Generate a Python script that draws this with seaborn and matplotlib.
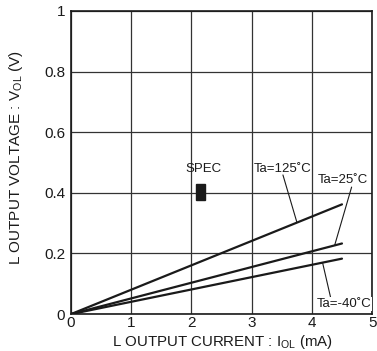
import numpy as np
import pandas as pd
import seaborn as sns
import matplotlib.pyplot as plt

# dados
corrente = [0, 4.5]
v_125 = [0, 0.362]
v_25 = [0, 0.233]
v_m40 = [0, 0.183]
rotulos = ["Ta=125˚C", "Ta=25˚C", "Ta=-40˚C"]

x_ticks = [0, 1, 2, 3, 4, 5]
y_ticks = [0, 0.2, 0.4, 0.6, 0.8, 1]
y_tick_labels = ["0", "0.2", "0.4", "0.6", "0.8", "1"]

# caixa SPEC (x, y inferior, largura, altura)
spec = (2.07, 0.376, 0.16, 0.053)

df = pd.DataFrame({
    "I": corrente * 3,
    "V": v_125 + v_25 + v_m40,
    "Ta": [rotulos[0]] * 2 + [rotulos[1]] * 2 + [rotulos[2]] * 2,
})

sns.set_style("white")
plt.rcParams["font.family"] = ["Liberation Sans", "DejaVu Sans"]
plt.rcParams["mathtext.fontset"] = "custom"
plt.rcParams["mathtext.rm"] = "Liberation Sans"

fig = plt.figure(figsize=(3.77, 3.51), dpi=100)
ax = fig.add_axes([0.188, 0.105, 0.799, 0.864])

sns.lineplot(data=df, x="I", y="V", units="Ta", estimator=None,
             color="#1a1a1a", linewidth=1.6, ax=ax, legend=False)

ax.set_xlim(0, 5)
ax.set_ylim(0, 1)
ax.set_xticks(x_ticks)
ax.set_yticks(y_ticks)
ax.set_yticklabels(y_tick_labels)
ax.tick_params(length=0, labelsize=11, colors="#1a1a1a")
ax.tick_params(axis="x", pad=1)
ax.tick_params(axis="y", pad=4)
ax.grid(True, color="#333333", linewidth=0.9)
for s in ax.spines.values():
    s.set_color("#1a1a1a")
    s.set_linewidth(1.2)

ax.set_xlabel(r"L OUTPUT CURRENT : I$_{\mathregular{OL}}$ (mA)", fontsize=10.8,
              color="#1a1a1a")
ax.set_ylabel(r"L OUTPUT VOLTAGE : V$_{\mathregular{OL}}$ (V)", fontsize=11,
              color="#1a1a1a")
ax.xaxis.set_label_coords(0.503, -0.062)
ax.yaxis.set_label_coords(-0.152, 0.518)

ax.add_patch(plt.Rectangle(spec[:2], spec[2], spec[3], color="#1a1a1a", zorder=3))
ax.text(2.2, 0.48, "SPEC", fontsize=9.5, ha="center", va="center", color="#1a1a1a")

# rótulos com linhas de chamada
ax.text(3.52, 0.48, rotulos[0], fontsize=9.5, ha="center", va="center", color="#1a1a1a")
ax.plot([3.52, 3.75], [0.459, 0.304], color="#1a1a1a", linewidth=0.8)
ax.text(4.51, 0.443, rotulos[1], fontsize=9.5, ha="center", va="center", color="#1a1a1a",
        bbox=dict(facecolor="white", edgecolor="none", pad=0.5))
ax.plot([4.66, 4.38], [0.419, 0.228], color="#1a1a1a", linewidth=0.8)
ax.text(4.53, 0.033, rotulos[2], fontsize=9.5, ha="center", va="center", color="#1a1a1a",
        bbox=dict(facecolor="white", edgecolor="none", pad=0.5))
ax.plot([4.18, 4.31], [0.168, 0.056], color="#1a1a1a", linewidth=0.8)

fig.savefig("out.png", dpi=100)
